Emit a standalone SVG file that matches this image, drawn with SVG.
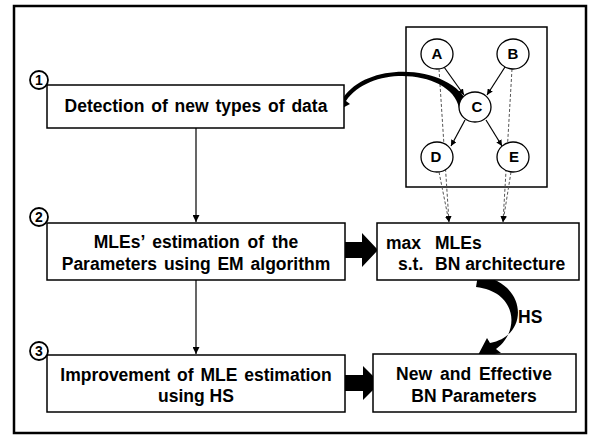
<svg xmlns="http://www.w3.org/2000/svg" width="590" height="436" viewBox="0 0 590 436">
<defs>
<style>
.box{fill:#fff;stroke:#000;stroke-width:1.5}
.t{font-family:"Liberation Sans",Arial,sans-serif;font-weight:bold;font-size:17.5px;fill:#000}
.n{font-family:"Liberation Sans",Arial,sans-serif;font-weight:bold;font-size:15px;fill:#000;text-anchor:middle}
.node{fill:#fff;stroke:#000;stroke-width:1.3}
.ln{stroke:#000;stroke-width:1.2;fill:none}
.dash{stroke:#555;stroke-width:1;stroke-dasharray:3 2;fill:none}
.num{fill:#fff;stroke:#000;stroke-width:1.8}
</style>
<marker id="ah" viewBox="0 0 10 10" refX="10" refY="5" markerWidth="7" markerHeight="7" markerUnits="userSpaceOnUse" orient="auto">
<path d="M0,0 L10,5 L0,10 z" fill="#000"/>
</marker>
<marker id="ahs" viewBox="0 0 10 10" refX="10" refY="5" markerWidth="6" markerHeight="6" markerUnits="userSpaceOnUse" orient="auto">
<path d="M0,0 L10,5 L0,10 z" fill="#000"/>
</marker>
</defs>
<rect x="0" y="0" width="590" height="436" fill="#fff"/>
<rect x="14" y="6" width="572" height="427" fill="none" stroke="#000" stroke-width="2.5"/>

<g id="bn">
<rect x="406" y="27" width="141" height="160" fill="#fff" stroke="#000" stroke-width="1.5"/>
</g>

<g id="connectors">
<line class="ln" x1="196" y1="128" x2="196" y2="222" marker-end="url(#ah)"/>
<line class="ln" x1="196" y1="280" x2="196" y2="354" marker-end="url(#ah)"/>
<line class="ln" x1="444" y1="67" x2="464" y2="95" marker-end="url(#ahs)"/>
<line class="ln" x1="505" y1="67" x2="487" y2="95" marker-end="url(#ahs)"/>
<line class="ln" x1="465" y1="120" x2="451" y2="146" marker-end="url(#ahs)"/>
<line class="ln" x1="486" y1="120" x2="502" y2="146" marker-end="url(#ahs)"/>
<line class="dash" x1="439" y1="69" x2="449" y2="222" marker-end="url(#ahs)"/>
<line class="dash" x1="439" y1="172" x2="449" y2="222" marker-end="url(#ahs)"/>
<line class="dash" x1="512" y1="69" x2="503" y2="222" marker-end="url(#ahs)"/>
<line class="dash" x1="511" y1="172" x2="503" y2="222" marker-end="url(#ahs)"/>
<path d="M345,242 L362,242 L362,233 L378,250 L362,267 L362,258 L345,258 Z" fill="#000"/>
<path d="M345,375 L363,375 L363,366 L380,383 L363,400 L363,391 L345,391 Z" fill="#000"/>
<path d="M469,106 C455,66 370,58 343,98 L336,95 L335,112 L350,104 L346,101 C372,63 452,71 459,108 Z" fill="#000"/>
<path d="M478,275 C528,282 530,336 490,343 L487,338 L477,357 L501,353 L496,349 C520,332 518,292 476,287 Z" fill="#000"/>
<text class="t" x="518" y="323">HS</text>
</g>

<g id="nodeA"><ellipse class="node" cx="437" cy="54" rx="16" ry="15"/><text class="n" x="437" y="59">A</text></g>
<g id="nodeB"><ellipse class="node" cx="513" cy="54" rx="16" ry="15"/><text class="n" x="513" y="59">B</text></g>
<g id="nodeC"><ellipse class="node" cx="475" cy="107" rx="16" ry="15"/><text class="n" x="477" y="112">C</text></g>
<g id="nodeD"><ellipse class="node" cx="437" cy="157" rx="16" ry="15"/><text class="n" x="436" y="162">D</text></g>
<g id="nodeE"><ellipse class="node" cx="513" cy="157" rx="16" ry="15"/><text class="n" x="514" y="162">E</text></g>

<g id="step1">
<rect class="box" x="47" y="85" width="297" height="43"/>
<circle class="num" cx="39" cy="80" r="9"/>
<text class="n" x="39" y="85" style="font-size:14px">1</text>
<text class="t" x="196" y="112" text-anchor="middle" word-spacing="2">Detection of new types of data</text>
</g>

<g id="step2">
<rect class="box" x="47" y="223" width="298" height="57"/>
<circle class="num" cx="39" cy="217" r="9"/>
<text class="n" x="39" y="222" style="font-size:14px">2</text>
<text class="t" x="196" y="248" text-anchor="middle" word-spacing="3">MLEs’ estimation of the</text>
<text class="t" x="196" y="270" text-anchor="middle" word-spacing="2">Parameters using EM algorithm</text>
</g>

<g id="step3">
<rect class="box" x="47" y="355" width="298" height="57"/>
<circle class="num" cx="39" cy="351" r="9"/>
<text class="n" x="39" y="356" style="font-size:14px">3</text>
<text class="t" x="196" y="381" text-anchor="middle" word-spacing="2">Improvement of MLE estimation</text>
<text class="t" x="196" y="402" text-anchor="middle">using HS</text>
</g>

<g id="maxbox">
<rect class="box" x="377" y="223" width="202" height="57"/>
<text class="t" x="386" y="249">max</text>
<text class="t" x="435" y="249">MLEs</text>
<text class="t" x="398" y="270">s.t.</text>
<text class="t" x="435" y="270">BN architecture</text>
</g>

<g id="newbox">
<rect class="box" x="373" y="354" width="203" height="58"/>
<text class="t" x="474" y="380" text-anchor="middle" word-spacing="3">New and Effective</text>
<text class="t" x="474" y="402" text-anchor="middle">BN Parameters</text>
</g>
</svg>
